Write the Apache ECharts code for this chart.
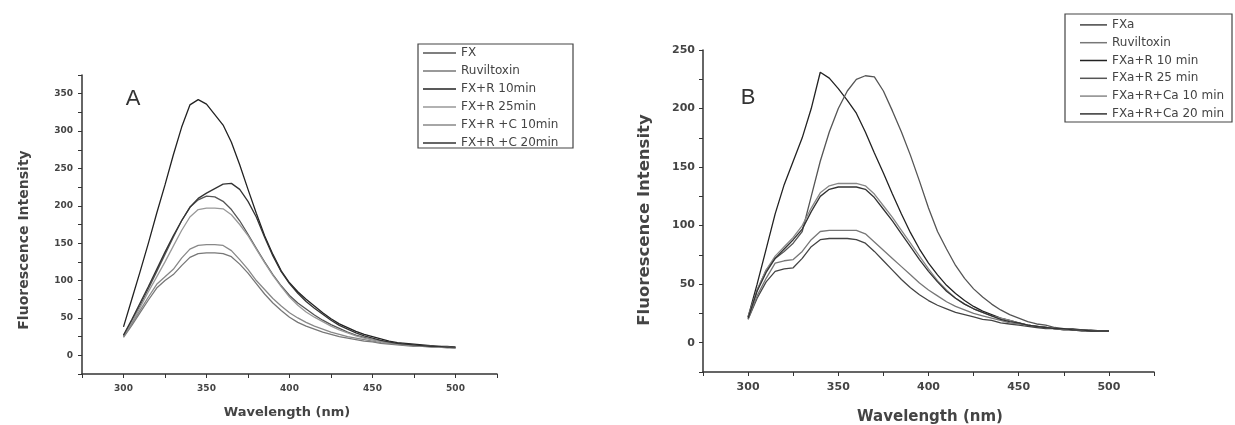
<!DOCTYPE html>
<html>
<head>
<meta charset="utf-8">
<script src="https://cdn.jsdelivr.net/npm/echarts@6/dist/echarts.min.js"></script>
<style>html,body{margin:0;padding:0;background:#fff;}#c{width:1235px;height:425px;}</style>
</head>
<body>
<div id="c"></div>
<script>
// ---- data ----
const wavelengths = [300,305,310,315,320,325,330,335,340,345,350,355,360,365,370,375,380,385,390,395,400,405,410,415,420,425,430,435,440,445,450,455,460,465,470,475,480,485,490,495,500];
const xTickLabels = [300,350,400,450,500];
const aYTickLabels = [0,50,100,150,200,250,300,350];
const bYTickLabels = [0,50,100,150,200,250];

// Panel A
const aNames = ['FX','Ruviltoxin','FX+R 10min','FX+R 25min','FX+R +C 10min','FX+R +C 20min'];
const aFX      = [26,46,67,89,112,135,158,180,198,208,213,212,206,195,180,162,143,125,108,93,80,70,62,54,47,41,36,31,27,24,21,19,17,15,14,13,12,12,11,11,10];
const aRuv     = [24,40,57,74,90,100,108,120,131,136,137,137,136,132,122,110,96,82,70,60,51,44,39,35,31,28,25,23,21,19,18,16,15,14,13,12,12,11,11,10,10];
const aFXR10   = [38,75,112,150,190,228,268,305,335,342,336,322,308,285,255,222,190,160,135,113,97,85,75,66,57,49,42,37,32,28,25,22,19,17,16,15,14,13,12,12,11];
const aFXR25   = [25,44,64,85,105,125,146,167,185,195,197,197,196,188,175,160,142,124,107,92,78,67,58,51,45,39,34,30,26,23,21,19,17,15,14,13,12,12,11,11,10];
const aFXRC10  = [25,42,60,78,95,105,115,130,142,147,148,148,147,140,128,115,100,88,76,66,57,50,44,39,35,31,28,25,23,21,19,17,16,15,14,13,12,12,11,11,10];
const aFXRC20  = [27,48,70,92,115,138,160,180,198,210,217,223,229,230,222,206,185,158,133,112,96,83,72,63,55,47,40,35,30,26,23,20,18,16,15,14,13,12,12,11,11];

// Panel B
const bNames = ['FXa','Ruviltoxin','FXa+R 10 min','FXa+R 25 min','FXa+R+Ca 10 min','FXa+R+Ca 20 min'];
const bFXa     = [20,38,52,61,63,64,72,82,88,89,89,89,88,85,78,70,62,54,47,41,36,32,29,26,24,22,20,19,17,16,15,14,13,12,12,11,11,10,10,10,10];
const bRuv     = [20,40,55,68,70,71,78,88,95,96,96,96,96,93,86,79,72,65,58,51,45,40,35,31,28,25,23,21,19,17,16,15,14,13,12,11,11,11,10,10,10];
const bFXaR10  = [22,50,80,110,135,155,175,200,231,226,217,207,196,180,162,145,127,110,94,80,68,58,49,42,36,31,27,24,21,19,17,15,14,13,12,12,11,11,10,10,10];
const bFXaR25  = [22,45,62,72,78,85,95,125,155,180,200,215,225,228,227,215,198,180,160,138,115,95,80,66,55,46,39,33,28,24,21,18,16,15,13,12,12,11,11,10,10];
const bFXaRC10 = [22,45,62,74,82,90,100,115,128,134,136,136,136,134,127,117,107,96,85,74,63,53,45,38,33,29,26,23,21,19,17,15,14,13,12,12,11,11,10,10,10];
const bFXaRC20 = [21,44,60,72,80,88,97,112,125,131,133,133,133,131,124,114,104,93,82,71,61,52,44,38,33,29,26,23,20,18,17,15,14,13,12,12,11,11,10,10,10];

// ---- chart ----
const FONT = 'DejaVu Sans';
const pairs = arr => arr.map((v, i) => [wavelengths[i], v]);

const aSeries = [
  {name: aNames[0], data: aFX, color: '#555'},
  {name: aNames[1], data: aRuv, color: '#777'},
  {name: aNames[2], data: aFXR10, color: '#222'},
  {name: aNames[3], data: aFXR25, color: '#999'},
  {name: aNames[4], data: aFXRC10, color: '#888'},
  {name: aNames[5], data: aFXRC20, color: '#333'}
];
const bSeries = [
  {name: bNames[0], data: bFXa, color: '#444'},
  {name: bNames[1], data: bRuv, color: '#777'},
  {name: bNames[2], data: bFXaR10, color: '#222'},
  {name: bNames[3], data: bFXaR25, color: '#555'},
  {name: bNames[4], data: bFXaRC10, color: '#888'},
  {name: bNames[5], data: bFXaRC20, color: '#333'}
];

function mkSeries(list, idx) {
  return list.map(s => ({
    type: 'line', name: s.name, xAxisIndex: idx, yAxisIndex: idx,
    data: pairs(s.data), symbol: 'none', showSymbol: false,
    lineStyle: {width: 1.3, color: s.color}, itemStyle: {color: s.color},
    emphasis: {disabled: true}, z: 2
  }));
}

function xAxis(idx, fs) {
  return {
    type: 'value', gridIndex: idx, min: 275, max: 525, interval: 25,
    axisLine: {show: true, onZero: false, lineStyle: {color: '#333', width: 1.5}},
    axisTick: {show: true, length: 4, lineStyle: {color: '#333'}},
    splitLine: {show: false},
    axisLabel: {margin: 10, fontFamily: FONT, fontWeight: 'bold', fontSize: fs, color: '#444',
      formatter: v => xTickLabels.includes(v) ? String(v) : ''}
  };
}
function yAxis(idx, max, labels, fs, margin) {
  return {
    type: 'value', gridIndex: idx, min: -25, max: max, interval: 25,
    axisLine: {show: true, onZero: false, lineStyle: {color: '#333', width: 1.5}},
    axisTick: {show: true, length: 4, lineStyle: {color: '#333'}},
    splitLine: {show: false},
    axisLabel: {margin: margin, fontFamily: FONT, fontWeight: 'bold', fontSize: fs, color: '#444',
      formatter: v => labels.includes(v) ? String(v) : ''}
  };
}

const option = {
  animation: false,
  backgroundColor: '#fff',
  grid: [
    {left: 82, top: 75, right: 1235 - 497, bottom: 425 - 374},
    {left: 703, top: 50, right: 1235 - 1154, bottom: 425 - 372}
  ],
  xAxis: [xAxis(0, 9), xAxis(1, 11)],
  yAxis: [yAxis(0, 375, aYTickLabels, 9, 9), yAxis(1, 250, bYTickLabels, 11, 8)],
  legend: [
    {data: aNames, orient: 'vertical', left: 423, top: 44, padding: 0, itemGap: 0,
     icon: 'rect', itemWidth: 33, itemHeight: 1.5, selectedMode: false,
     textStyle: {fontFamily: FONT, fontSize: 12, lineHeight: 18, color: '#444'}},
    {data: bNames, orient: 'vertical', left: 1080, top: 16, padding: 0, itemGap: 0,
     icon: 'rect', itemWidth: 27, itemHeight: 1.5, selectedMode: false,
     textStyle: {fontFamily: FONT, fontSize: 12, lineHeight: 17.8, color: '#444'}}
  ],
  graphic: [
    {type: 'rect', shape: {x: 418, y: 44, width: 155, height: 104}, style: {fill: 'none', stroke: '#444', lineWidth: 1.2}, silent: true},
    {type: 'rect', shape: {x: 1065, y: 14, width: 167, height: 108}, style: {fill: 'none', stroke: '#444', lineWidth: 1.2}, silent: true},
    {type: 'text', x: 133, y: 99, style: {text: 'A', fontFamily: 'Liberation Sans', fontSize: 22, fill: '#333', align: 'center', verticalAlign: 'middle'}},
    {type: 'text', x: 748, y: 98, style: {text: 'B', fontFamily: 'Liberation Sans', fontSize: 22, fill: '#333', align: 'center', verticalAlign: 'middle'}},
    {type: 'text', x: 24, y: 240, rotation: Math.PI / 2, style: {text: 'Fluorescence Intensity', fontFamily: FONT, fontWeight: 'bold', fontSize: 14, fill: '#444', align: 'center', verticalAlign: 'middle'}},
    {type: 'text', x: 645, y: 220, rotation: Math.PI / 2, style: {text: 'Fluorescence Intensity', fontFamily: FONT, fontWeight: 'bold', fontSize: 16.5, fill: '#444', align: 'center', verticalAlign: 'middle'}},
    {type: 'text', x: 287, y: 413, style: {text: 'Wavelength (nm)', fontFamily: FONT, fontWeight: 'bold', fontSize: 13, fill: '#444', align: 'center', verticalAlign: 'middle'}},
    {type: 'text', x: 930, y: 417, style: {text: 'Wavelength (nm)', fontFamily: FONT, fontWeight: 'bold', fontSize: 15, fill: '#444', align: 'center', verticalAlign: 'middle'}}
  ],
  series: mkSeries(aSeries, 0).concat(mkSeries(bSeries, 1))
};

const chart = echarts.init(document.getElementById('c'), null, {renderer: 'canvas'});
chart.setOption(option);
</script>
</body>
</html>
